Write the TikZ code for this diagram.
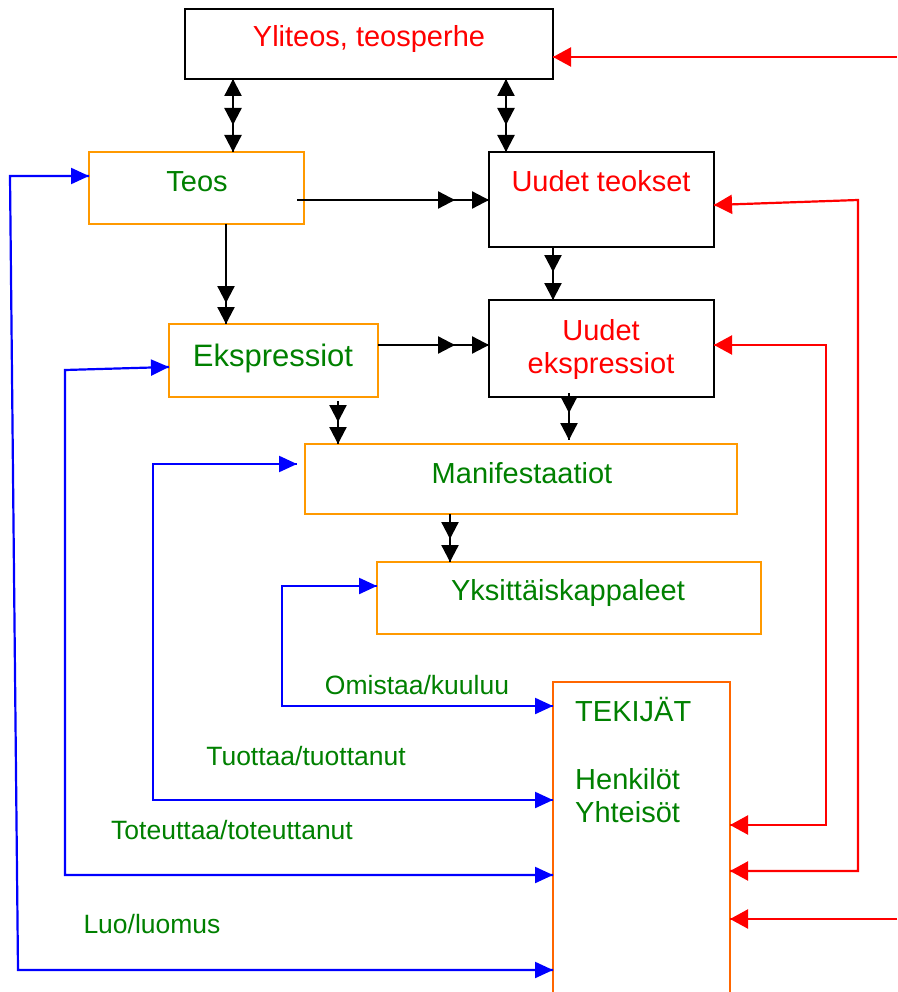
\documentclass[tikz,border=0pt]{standalone}
\usepackage{fontspec}
\setmainfont{Liberation Sans}
\usetikzlibrary{arrows.meta,decorations.markings,calc}
\definecolor{fred}{RGB}{255,0,0}
\definecolor{fgreen}{RGB}{0,128,0}
\definecolor{fblue}{RGB}{0,0,255}
\definecolor{forange}{RGB}{255,153,0}
\definecolor{fdeep}{RGB}{255,102,0}

\tikzset{
  bbox/.style={draw=black, line width=2pt, inner sep=0pt, outer sep=0pt},
  obox/.style={draw=forange, line width=2pt, inner sep=0pt, outer sep=0pt},
  big/.style={font=\fontsize{29}{34}\selectfont, inner sep=0pt, anchor=base},
  lbl/.style={font=\fontsize{26.5}{31}\selectfont, text=fgreen, inner sep=0pt, anchor=base},
  tipK/.tip={Triangle[length=17pt,width=17pt]},
  tipB/.tip={Triangle[length=18pt,width=16pt]},
  tipR/.tip={Triangle[length=18pt,width=19pt]},
  headK/.style={postaction={decorate,decoration={markings,mark=at position #1 with {\arrow{tipK}}}}},
  headKr/.style={postaction={decorate,decoration={markings,mark=at position #1 with {\arrowreversed{tipK}}}}},
  headB/.style={postaction={decorate,decoration={markings,mark=at position #1 with {\arrow{tipB}}}}},
  headBr/.style={postaction={decorate,decoration={markings,mark=at position #1 with {\arrowreversed{tipB}}}}},
  headR/.style={postaction={decorate,decoration={markings,mark=at position #1 with {\arrow{tipR}}}}},
  headRr/.style={postaction={decorate,decoration={markings,mark=at position #1 with {\arrowreversed{tipR}}}}},
  flow/.style={line width=2.3pt, color=black},
  blu/.style={line width=2.2pt, color=fblue, headBr=0, headB=1},
  rd/.style={line width=2.2pt, color=fred},
}

\begin{document}
\begin{tikzpicture}[x=1pt, y=-1pt]
\useasboundingbox (0,0) rectangle (897,992);
\clip (0,0) rectangle (897,992);

% boxes
\node[bbox, minimum width=368, minimum height=70] (yl) at (369,44) {};
\node[obox, minimum width=215, minimum height=72] (teos) at (196.5,188) {};
\node[bbox, minimum width=225, minimum height=95] (ut) at (601.5,199.5) {};
\node[obox, minimum width=209, minimum height=73] (eks) at (273.5,360.5) {};
\node[bbox, minimum width=225, minimum height=97] (ue) at (601.5,348.5) {};
\node[obox, minimum width=432, minimum height=70] (man) at (521,479) {};
\node[obox, minimum width=384, minimum height=72] (yks) at (569,598) {};
\node[draw=fdeep, line width=2pt, inner sep=0pt, outer sep=0pt,
      minimum width=177, minimum height=330] (tek) at (641.5,847) {};

% box texts
\node[big, text=fred] (ylT) at (369,47) {Yliteos, teosperhe};
\node[big, text=fgreen] (teosT) at (197,192) {Teos};
\node[big, text=fred] (utT) at (601,192) {Uudet teokset};
\node[big, text=fgreen, font=\fontsize{31}{36}\selectfont] (eksT) at (273,366) {Ekspressiot};
\node[big, text=fred] (ueT1) at (601,340) {Uudet};
\node[big, text=fred] (ueT2) at (601,373) {ekspressiot};
\node[big, text=fgreen] (manT) at (522,483) {Manifestaatiot};
\node[big, text=fgreen] (yksT) at (568,600) {Yksittäiskappaleet};
\node[big, text=fgreen, anchor=base west] (tekT1) at (575,721) {TEKIJÄT};
\node[big, text=fgreen, anchor=base west] (tekT2) at (575,789) {Henkilöt};
\node[big, text=fgreen, anchor=base west] (tekT3) at (575,822) {Yhteisöt};

% relation labels
\node[lbl] (lOm) at (417,694) {Omistaa/kuuluu};
\node[lbl] (lTu) at (306,765) {Tuottaa/tuottanut};
\node[lbl] (lTo) at (232,839) {Toteuttaa/toteuttanut};
\node[lbl] (lLu) at (152,933) {Luo/luomus};

% black hierarchy connectors
\draw[flow, headKr=0, headK=-27pt, headK=1] (yl.south -| 233,0) -- (teos.north -| 233,0);
\draw[flow, headKr=0, headK=-27pt, headK=1] (yl.south -| 506,0) -- (ut.north -| 506,0);
\draw[flow, headK=-34pt, headK=1] ($(teos.east)+(-7,12)$) -- (ut.west |- 0,200);
\draw[flow, headK=-21pt, headK=1] (teos.south -| 226,0) -- (eks.north -| 226,0);
\draw[flow, headK=-28pt, headK=1] (ut.south -| 553,0) -- (ue.north -| 553,0);
\draw[flow, headK=-34pt, headK=1] (eks.east |- 0,345) -- (ue.west |- 0,345);
\draw[flow, headK=-22pt, headK=1] ($(eks.south -| 338,0)+(0,4)$) -- (man.north -| 338,0);
\draw[flow, headK=-27pt, headK=1] ($(ue.south -| 569,0)+(0,-4)$) -- ($(man.north -| 569,0)+(0,-4)$);
\draw[flow, headK=-23pt, headK=1] (man.south -| 450,0) -- (yks.north -| 450,0);

% blue relation connectors from the creators box
\draw[blu] (tek.west |- 0,706) -- (282,706) -- (282,586) -- (yks.west |- 0,586);
\draw[blu] (tek.west |- 0,800) -- (153,800) -- (153,464) -- ($(man.west |- 0,464)+(-8,0)$);
\draw[blu] (tek.west |- 0,875) -- (65,875) -- (65,370) -- (eks.west |- 0,367);
\draw[blu] (tek.west |- 0,970) -- (18,970) -- (10,176) -- (teos.west |- 0,176);

% red connectors on the right
\coordinate (inTop) at (897,57);
\coordinate (inBot) at (897,919);
\draw[rd, headR=1] (inTop) -- (yl.east |- inTop);
\draw[rd, headRr=0, headR=1] (tek.east |- 0,871) -- (858,871) -- (858,200) -- (ut.east |- 0,205);
\draw[rd, headRr=0, headR=1] (tek.east |- 0,825) -- (826,825) -- (826,345) -- (ue.east |- 0,345);
\draw[rd, headR=1] (inBot) -- (tek.east |- inBot);
\end{tikzpicture}
\end{document}
